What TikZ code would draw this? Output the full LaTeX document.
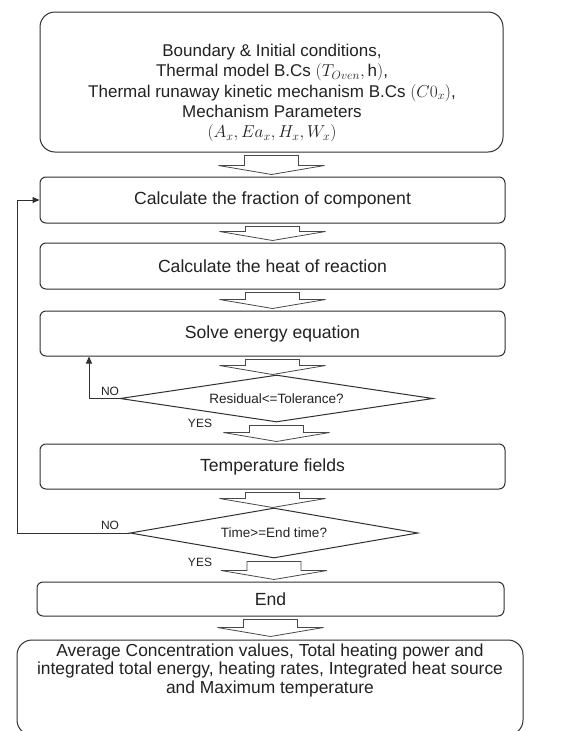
\documentclass[tikz,border=0pt]{standalone}
\usepackage{fontspec}
\setmainfont{Liberation Sans}
\usetikzlibrary{shapes.geometric,arrows.meta,calc}
\definecolor{linec}{HTML}{303030}
\definecolor{arrc}{HTML}{484848}
\definecolor{txt}{HTML}{222222}
\newcommand\barrow[3]{%
  \draw[blockarr] let \p1=(#1.south), \p2=(#2.north) in
    (\x1-27pt,\y1-3pt) -- (\x1+27pt,\y1-3pt) -- (\x1+27pt,\y2+#3pt+9pt)
    -- (\x1+53pt,\y2+#3pt+9pt) -- (\x1,\y2+#3pt) -- (\x1-53pt,\y2+#3pt+9pt)
    -- (\x1-27pt,\y2+#3pt+9pt) -- cycle;}
\begin{document}
\begin{tikzpicture}[x=1pt,y=-1pt,
  box/.style={draw=linec,line width=1pt,rounded corners=6pt,minimum width=465pt,
    minimum height=45pt,inner sep=0pt,font=\fontsize{17.6}{20}\selectfont,text=txt},
  bigbox/.style={draw=linec,line width=1pt,rounded corners=15pt,inner sep=0pt},
  btext/.style={align=center,inner sep=0pt,text=txt},
  dec/.style={draw=linec,line width=1pt,shape=diamond,inner sep=0pt,
    font=\fontsize{13.5}{15}\selectfont,text=txt},
  lab/.style={font=\fontsize{12}{14}\selectfont,text=txt,inner sep=0pt},
  conn/.style={draw=linec,line width=1pt,-{Triangle[length=7pt,width=6pt]}},
  blockarr/.style={draw=arrc,line width=0.8pt,fill=white}]
\fill[white] (0,0) rectangle (563,731);
\useasboundingbox (0,0) rectangle (563,731);

\node[bigbox,minimum width=463pt,minimum height=140pt] (top) at (271.5,82) {};
\node[btext,font=\fontsize{17}{20.3}\selectfont] (toptext) at (272,93)
  {Boundary \& Initial conditions,\\
   Thermal model B.Cs \((T_{Oven},\mathrm{h})\),\\
   Thermal runaway kinetic mechanism B.Cs \((C0_x)\),\\
   Mechanism Parameters\\
   \((A_x, Ea_x, H_x, W_x)\)};

\node[box,minimum height=46pt] (b2) at (272.5,200) {Calculate the fraction of component};
\node[box,minimum height=46pt] (b3) at (272.5,266) {Calculate the heat of reaction};
\node[box,minimum height=45pt] (b4) at (272.5,333.5) {Solve energy equation};
\node[dec,aspect=6.66,minimum width=313pt,minimum height=47pt] (d1) at (276.5,398.5) {Residual<=Tolerance?};
\node[box,minimum height=45pt] (b5) at (272.5,466.5) {Temperature fields};
\node[dec,aspect=5.76,minimum width=288pt,minimum height=50pt] (d2) at (274,533) {Time>=End time?};
\node[box,minimum width=467pt,minimum height=34pt] (e) at (270.5,599) {End};

\node[bigbox,minimum width=506pt,minimum height=95pt] (fin) at (270,687.5) {};
\node[btext,font=\fontsize{17.4}{18.5}\selectfont] (fintext) at (270,670)
  {Average Concentration values, Total heating power and\\
   integrated total energy, heating rates, Integrated heat source\\
   and Maximum temperature};

\node[lab] (no1) at (110,391) {NO};
\node[lab] (yes1) at (200,423) {YES};
\node[lab] (no2) at (110,525) {NO};
\node[lab] (yes2) at (200,562) {YES};

\barrow{top}{b2}{2}
\barrow{b2}{b3}{2}
\barrow{b3}{b4}{2}
\barrow{b4}{d1}{0}
\barrow{d1}{b5}{2}
\barrow{b5}{d2}{0}
\barrow{d2}{e}{2}
\barrow{e}{fin}{3}

\coordinate (l1) at (89,0);
\coordinate (l2) at (17,0);
\draw[conn] (d1.west) -| (l1 |- b4.south);
\draw[conn] (d2.west) -| (l2 |- b2.west) -- (b2.west);
\end{tikzpicture}
\end{document}
